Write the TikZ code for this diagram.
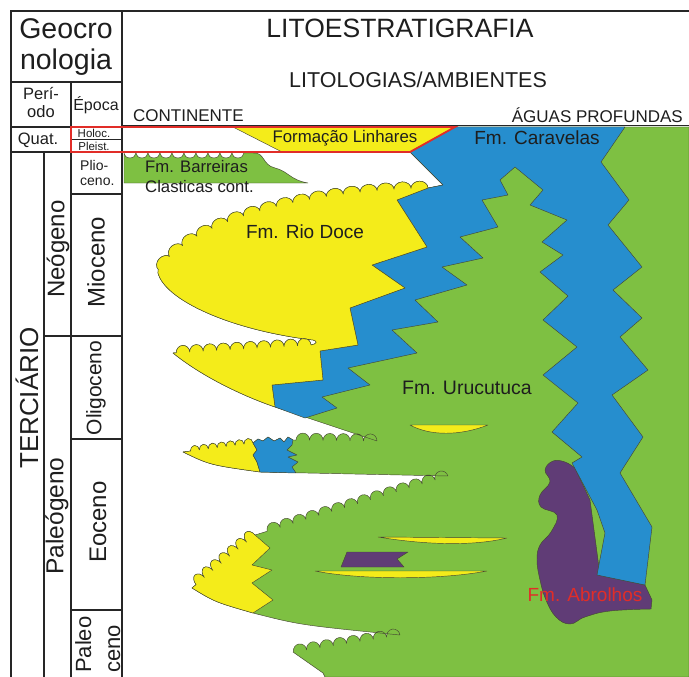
\documentclass[tikz,border=0pt]{standalone}
\usepackage{fontspec}
\setmainfont{Liberation Sans}
\usetikzlibrary{decorations.pathmorphing}
\definecolor{ylw}{RGB}{244,236,26}
\definecolor{grn}{RGB}{126,192,66}
\definecolor{blu}{RGB}{38,142,206}
\definecolor{prp}{RGB}{96,60,118}
\definecolor{redl}{RGB}{225,45,40}
\definecolor{edgec}{RGB}{70,72,50}
\definecolor{txtc}{RGB}{30,30,30}
\newcommand\fsz[1]{\fontsize{#1}{#1}\selectfont}
\begin{document}
\begin{tikzpicture}[x=1pt,y=-1pt]
\tikzset{
  geo/.style={draw=edgec, line width=0.45pt, line join=round},
  gr/.style={geo, fill=grn},
  yl/.style={geo, fill=ylw},
  bl/.style={geo, fill=blu},
  pp/.style={geo, fill=prp},
  serRD/.style={decoration={bumps, segment length=34pt, amplitude=-7pt}},
  serA/.style={decoration={bumps, segment length=27pt, amplitude=-7pt}},
  serS/.style={decoration={bumps, segment length=18pt, amplitude=-5pt}},
  serB/.style={decoration={bumps, segment length=22pt, amplitude=-8pt}},
  serBar/.style={decoration={bumps, segment length=24pt, amplitude=-5pt}},
  tbl/.style={line width=1.5pt, draw=black!85},
  redln/.style={draw=redl, line width=1.8pt, line join=miter},
  txt/.style={inner sep=0pt, text=txtc},
}
\useasboundingbox (0,0) rectangle (689,677);
\fill[white] (0,0) rectangle (689,677);

% green envelope (Urucutuca and deep water green)
\path[gr] (689,127) -- (455,127) -- (410,152) -- (443,185) -- (428,188)
  decorate[serRD]{ .. controls (330,190) and (195,212) .. (158,273) }
  .. controls (165,300) and (230,330) .. (313,340)
  .. controls (318,341) and (317,344) .. (311,345)
  decorate[serA]{ -- (173,353) }
  .. controls (200,375) and (240,395) .. (275,407)
  -- (377,441)
  decorate[serA]{ -- (293,440) }
  -- (288,437) -- (284,442) -- (280,438) -- (274,441) -- (268,437) -- (263,441) -- (258,439) -- (253,443)
  decorate[serS]{ -- (183,452) }
  .. controls (210,465) .. (260,472) -- (448,476)
  decorate[serA]{ -- (255,535) }
  decorate[serB]{ -- (192,588) }
  .. controls (215,602) .. (253,613) .. controls (300,625) .. (400,635)
  decorate[serA]{ -- (293,652) }
  -- (323,673) -- (325,677) -- (689,677) -- cycle;

% Abrolhos (purple)
\path[pp] (600,575) -- (645,585) -- (652,600) -- (651,609)
  -- plot[smooth, tension=0.7] coordinates {(651,609) (610,611) (585,617) (570,624) (556,617) (546,600) (540,580) (537,560) (540,545) (551,532) (557,515) (541,507) (540,495) (550,482) (545,470) (553,461) (565,462) (575,468)}
  -- (590,500) -- cycle;

% Caravelas (blue)
\path[bl] (455,127) -- (625,127) -- (601,162) -- (629,200) -- (608,225) -- (642,267)
  -- (613,290) -- (642,318) -- (620,337) -- (648,370) -- (612,395) -- (643,437)
  -- (620,473) -- (652,527) -- (645,585) -- (597,575) -- (605,533) -- (597,510) -- (572,463)
  -- (582,457) -- (552,432) -- (578,403) -- (543,375) -- (577,347) -- (543,320) -- (568,296)
  -- (540,272) -- (563,255) -- (542,242) -- (567,220) -- (530,205) -- (543,190) -- (515,167)
  -- (500,180) -- (508,195) -- (482,200) -- (498,227) -- (460,237) -- (483,258) -- (442,267)
  -- (467,285) -- (415,300) -- (438,322) -- (392,330) -- (417,353) -- (348,368) -- (370,385)
  -- (322,397) -- (337,408) -- (305,418) -- (275,407) -- (272,385) -- (323,380) -- (320,351)
  -- (358,345) -- (350,308) -- (405,288) -- (372,265) -- (427,247) -- (397,200) -- (428,188)
  -- (443,185) -- (410,152) -- cycle;

% Rio Doce (yellow)
\path[yl] (428,188)
  decorate[serRD]{ .. controls (330,190) and (195,212) .. (158,273) }
  .. controls (165,300) and (230,330) .. (313,340)
  .. controls (318,341) and (317,344) .. (311,345)
  decorate[serA]{ -- (173,353) }
  .. controls (200,375) and (240,395) .. (275,407)
  -- (272,385) -- (323,380) -- (320,351) -- (358,345) -- (350,308) -- (405,288)
  -- (372,265) -- (427,247) -- (397,200) -- cycle;

% level 2 small yellow and blue
\path[yl] (253,443) decorate[serS]{ -- (183,452) } .. controls (210,465) .. (260,472)
  -- (257,462) -- (253,455) -- (257,450) -- cycle;
\path[bl] (253,443) -- (258,439) -- (263,441) -- (268,437) -- (274,441) -- (280,438)
  -- (284,442) -- (288,437) -- (293,440) -- (292,445) -- (287,450) -- (297,455)
  -- (288,457) -- (298,462) -- (292,467) -- (296,473) -- (260,472) -- (257,462)
  -- (253,455) -- (257,450) -- cycle;

% level 3 yellow lobe
\path[yl] (255,535) decorate[serB]{ -- (192,588) } .. controls (215,602) .. (253,613)
  -- (273,600) -- (252,583) -- (272,570) -- (252,565) -- (270,548) -- cycle;

% lenses and flag
\path[yl] (410,425) -- (488,425) .. controls (460,436) and (430,436) .. (410,425) -- cycle;
\path[yl] (378,537) -- (507,538) .. controls (470,547) and (420,544) .. (378,537) -- cycle;
\path[yl] (315,571) -- (487,571) .. controls (440,580) and (360,580) .. (315,571) -- cycle;
\path[pp] (347,552) -- (408,552) -- (397,559) -- (404,567) -- (341,567) -- cycle;

% Barreiras
\path[gr] (124,183) -- (124,153) decorate[serBar]{ -- (253,153) }
  .. controls (265,152) and (262,165) .. (275,168)
  .. controls (288,171) and (290,180) .. (308,183) -- cycle;

% Linhares
\path[yl] (233,127) -- (455,127) -- (410,152) -- (282,152) -- cycle;

% table
\draw[tbl] (11,677) -- (11,11) -- (689,11);
\draw[tbl] (122,11) -- (122,677);
\draw[tbl] (11,82) -- (122,82);
\draw[tbl] (11,127) -- (122,127);
\draw[tbl] (71,82) -- (71,677);
\draw[tbl] (11,152) -- (122,152);
\draw[tbl] (44,152) -- (44,677);
\draw[tbl, line width=1pt] (71,140) -- (122,140);
\draw[tbl] (71,194) -- (122,194);
\draw[tbl] (44,336) -- (122,336);
\draw[tbl] (71,439) -- (122,439);
\draw[tbl] (71,610) -- (122,610);
\draw[line width=1pt, black!85] (122,126) -- (689,126);

% red frame of Quaternary
\draw[redln] (71,127) -- (455,127) -- (410,152) -- (71,152) -- cycle;

% texts
\node[txt, font=\fsz{28.5}] (geo1) at (66,29) {Geocro};
\node[txt, font=\fsz{28.5}] (geo2) at (66,62) {nologia};
\node[txt, font=\fsz{16.5}] (per1) at (41,94) {Perí-};
\node[txt, font=\fsz{16.5}] (per2) at (41,112) {odo};
\node[txt, font=\fsz{16}] (epo) at (96,105) {Época};
\node[txt, font=\fsz{16.5}] (quat) at (38,140) {Quat.};
\node[txt, font=\fsz{11.5}] (holo) at (94,133) {Holoc.};
\node[txt, font=\fsz{11.5}] (plei) at (94,146) {Pleist.};
\node[txt, font=\fsz{14}, anchor=west] (pli1) at (80,165) {Plio-};
\node[txt, font=\fsz{14}, anchor=west] (pli2) at (80,182) {ceno.};
\node[txt, font=\fsz{24}, rotate=90] (mio) at (96,262) {Mioceno};
\node[txt, font=\fsz{24}, rotate=90] (neo) at (58,249) {Neógeno};
\node[txt, font=\fsz{26}, rotate=90] (ter) at (27,398) {TERCIÁRIO};
\node[txt, font=\fsz{21}, rotate=90] (oli) at (96,388) {Oligoceno};
\node[txt, font=\fsz{24.5}, rotate=90] (pal) at (57,516) {Paleógeno};
\node[txt, font=\fsz{24}, rotate=90] (eoc) at (98,522) {Eoceno};
\node[txt, font=\fsz{22}, rotate=90, anchor=base west] (pc1) at (91,673) {Paleo};
\node[txt, font=\fsz{22}, rotate=90, anchor=base west] (pc2) at (120,673) {ceno};

\node[txt, font=\fsz{26.5}] (lito) at (400,28) {LITOESTRATIGRAFIA};
\node[txt, font=\fsz{21.5}] (amb) at (418,80) {LITOLOGIAS/AMBIENTES};
\node[txt, font=\fsz{17}, anchor=west] (cont) at (133,116) {CONTINENTE};
\node[txt, font=\fsz{17}, anchor=east] (agua) at (683,115) {ÁGUAS PROFUNDAS};
\node[txt, font=\fsz{16.8}] (linh) at (345,138) {Formação Linhares};
\node[txt, font=\fsz{19}] (cara) at (537,138) {Fm. Caravelas};
\node[txt, font=\fsz{16.7}, anchor=west] (bar1) at (145,167) {Fm. Barreiras};
\node[txt, font=\fsz{16.7}, anchor=west] (bar2) at (145,187) {Clasticas cont.};
\node[txt, font=\fsz{19}] (rio) at (305,232) {Fm. Rio Doce};
\node[txt, font=\fsz{19.5}] (uru) at (467,388) {Fm. Urucutuca};
\node[inner sep=0pt, text=redl, font=\fsz{19}] (abr) at (585,595) {Fm. Abrolhos};
\end{tikzpicture}
\end{document}
